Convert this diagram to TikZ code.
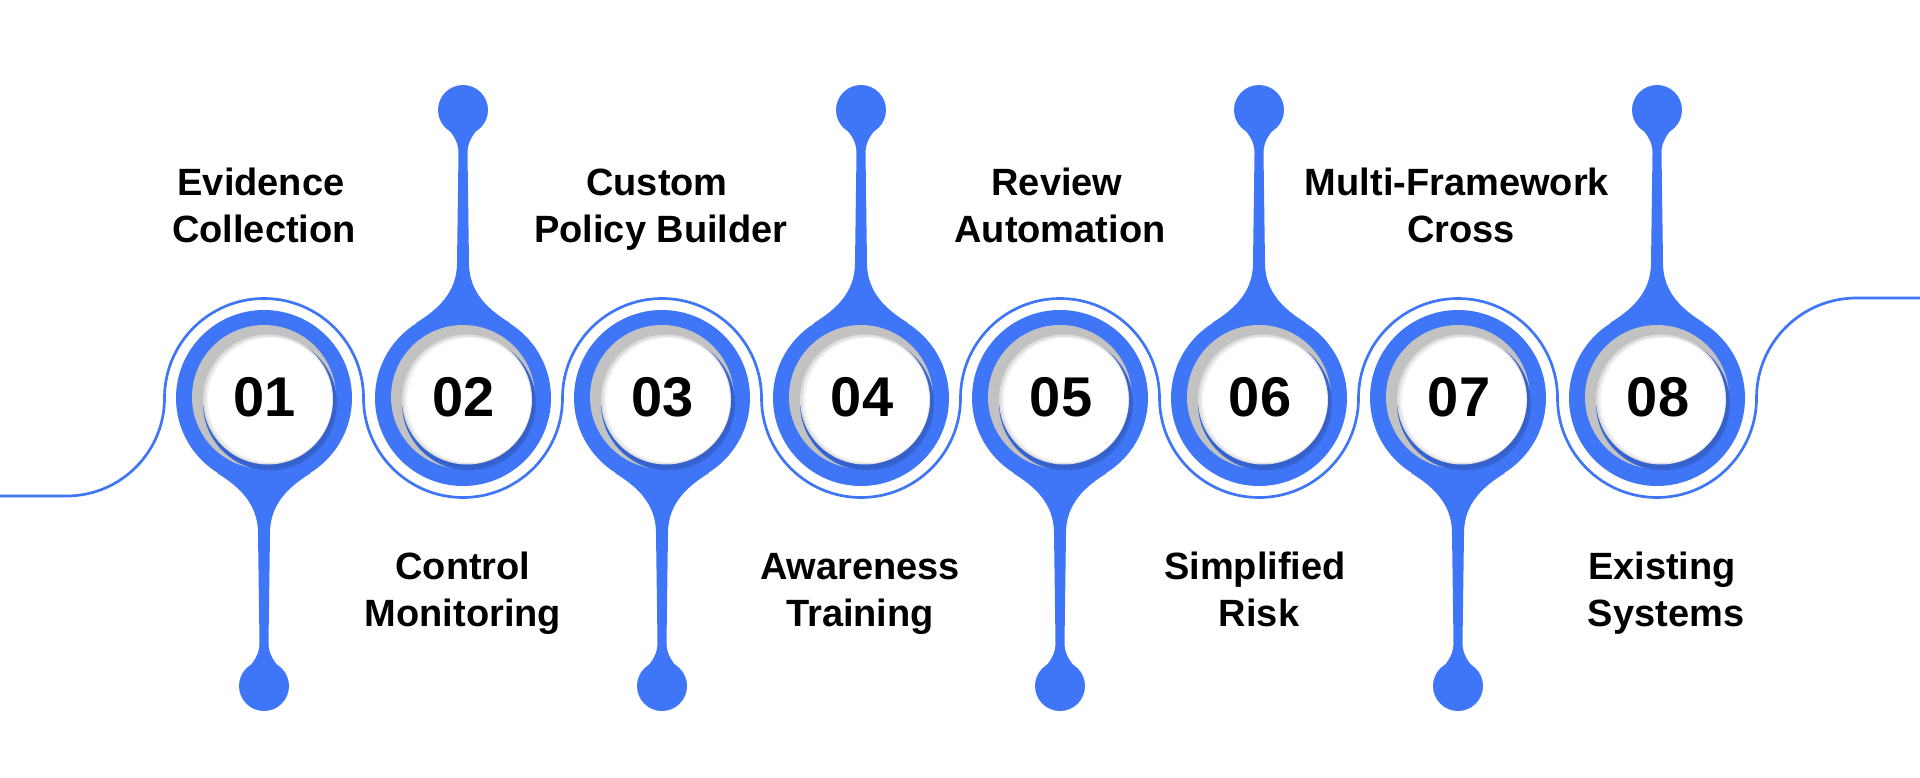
\documentclass[tikz,border=0pt]{standalone}
\usepackage{fontspec}
\setmainfont{Liberation Sans}
\definecolor{mainblue}{HTML}{3F76F8}
\definecolor{shadowblue}{HTML}{3461CC}
\definecolor{holegray}{HTML}{C2C2C2}
\begin{document}
\begin{tikzpicture}[x=1pt,y=-1pt,
  ring/.style={draw=mainblue, line width=2.7pt},
  num/.style={font=\fontsize{56}{60}\selectfont\bfseries, text=black, inner sep=0},
  lbl/.style={font=\fontsize{38}{46}\selectfont\bfseries, text=black, anchor=base, inner sep=0}]
\useasboundingbox (0,0) rectangle (1920,778);

% connecting thin line
\draw[ring] (0,496) -- (66.5,496)
  arc[start angle=90, end angle=0, radius=98]
  arc[start angle=180, end angle=360, radius=99.5]
  arc[start angle=180, end angle=0, radius=99.5]
  arc[start angle=180, end angle=360, radius=99.5]
  arc[start angle=180, end angle=0, radius=99.5]
  arc[start angle=180, end angle=360, radius=99.5]
  arc[start angle=180, end angle=0, radius=99.5]
  arc[start angle=180, end angle=360, radius=99.5]
  arc[start angle=180, end angle=0, radius=99.5]
  arc[start angle=180, end angle=270, radius=100]
  -- (1920,298);

\foreach \i/\n/\d in {1/01/1,2/02/-1,3/03/1,4/04/-1,5/05/1,6/06/-1,7/07/1,8/08/-1}{
  \pgfmathsetmacro\cx{264+199*(\i-1)}
  \begin{scope}[shift={(\cx,398)}, yscale=\d]
    \fill[mainblue] (0,0) circle[radius=88];
    \fill[mainblue] (0,288) circle[radius=25];
    \fill[mainblue] (-47,75) .. controls (-26,88) and (-6,105) .. (-6,135)
      -- (-4.5,245) .. controls (-4.5,255) and (-9,262) .. (-14,268)
      -- (14,268) .. controls (9,262) and (4.5,255) .. (4.5,245)
      -- (6,135) .. controls (6,105) and (26,88) .. (47,75) -- cycle;
  \end{scope}
  \fill[holegray] (\cx,397) circle[radius=72];
  \fill[shadowblue!80!mainblue] (\cx+6,403.5) circle[radius=67];
  \fill[shadowblue] (\cx+6,403) circle[radius=65.5];
  \fill[holegray!55] (\cx+4,399.5) circle[radius=65];
  \fill[holegray!25] (\cx+5,400) circle[radius=63.5];
  \fill[white] (\cx+6,400) circle[radius=62];
  \node[num] (n\i) at (\cx+1,397) {\n};
}

% top labels
\node[lbl] (t1a) at (261,195.5) {Evidence};
\node[lbl] (t1b) at (264,243) {Collection};
\node[lbl] (t3a) at (657,195.5) {Custom};
\node[lbl] (t3b) at (661,243) {Policy Builder};
\node[lbl] (t5a) at (1057,195.5) {Review};
\node[lbl] (t5b) at (1060,243) {Automation};
\node[lbl] (t7a) at (1457,195.5) {Multi-Framework};
\node[lbl] (t7b) at (1461,243) {Cross};
% bottom labels
\node[lbl] (b2a) at (463,579) {Control};
\node[lbl] (b2b) at (463,626) {Monitoring};
\node[lbl] (b4a) at (860,579) {Awareness};
\node[lbl] (b4b) at (860,626) {Training};
\node[lbl] (b6a) at (1255,579) {Simplified};
\node[lbl] (b6b) at (1259,626) {Risk};
\node[lbl] (b8a) at (1662,579) {Existing};
\node[lbl] (b8b) at (1666,626) {Systems};
\end{tikzpicture}
\end{document}
